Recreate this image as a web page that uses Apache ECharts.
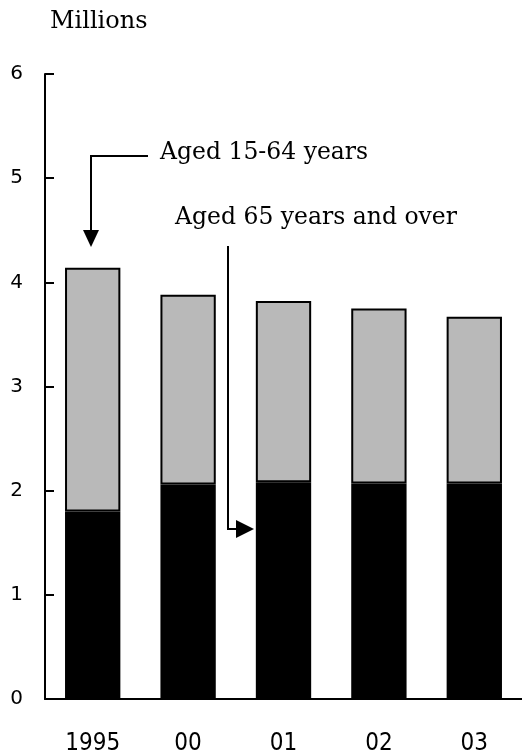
<!DOCTYPE html>
<html><head><meta charset="utf-8">
<script src="https://cdn.jsdelivr.net/npm/echarts@6/dist/echarts.min.js"></script>
<style>html,body{margin:0;padding:0;background:#fff}#c{width:522px;height:756px}</style>
</head><body><div id="c"></div>
<script>
var categories = ['1995', '00', '01', '02', '03'];
var aged65Over = [1.80, 2.06, 2.08, 2.07, 2.07];
var aged15to64 = [2.34, 1.82, 1.74, 1.68, 1.60];
var yTicks = [0, 1, 2, 3, 4, 5, 6];

var serif = '"DejaVu Serif", "Liberation Serif", serif';
function txt(x, y, s, size) {
  return { type: 'text', left: x, top: y, style: { text: s, fontSize: size, fontFamily: serif, fill: '#000' } };
}
var chart = echarts.init(document.getElementById('c'));
chart.setOption({
  animation: false,
  backgroundColor: '#fff',
  grid: { left: 45, right: 0, top: 74, bottom: 52, containLabel: false },
  xAxis: {
    type: 'category', data: categories,
    axisLine: { lineStyle: { color: '#000', width: 2 } },
    axisTick: { show: false },
    axisLabel: { margin: 33, color: '#000', fontSize: 24, fontFamily: '"Liberation Sans Narrow", "DejaVu Sans Condensed", sans-serif' }
  },
  yAxis: {
    type: 'value', min: 0, max: 6, interval: 1,
    axisLine: { show: true, lineStyle: { color: '#000', width: 2 } },
    axisTick: { show: true, inside: true, length: 9, lineStyle: { color: '#000', width: 2 } },
    splitLine: { show: false },
    axisLabel: { margin: 22, color: '#000', fontSize: 20, fontFamily: '"DejaVu Sans", sans-serif',
      formatter: function (v) { return yTicks.indexOf(v) >= 0 ? String(v) : ''; } }
  },
  series: [
    { name: 'Aged 65 years and over', type: 'bar', stack: 't', data: aged65Over, barWidth: '58%',
      itemStyle: { color: '#000', borderColor: '#000', borderWidth: 2 } },
    { name: 'Aged 15-64 years', type: 'bar', stack: 't', data: aged15to64, barWidth: '58%',
      itemStyle: { color: '#b9b9b9', borderColor: '#000', borderWidth: 2 } }
  ],
  graphic: [
    txt(50, 10, 'Millions', 24),
    txt(160, 141, 'Aged 15-64 years', 23.5),
    txt(175, 206, 'Aged 65 years and over', 23.5),
    { type: 'polyline', shape: { points: [[148, 156], [91, 156], [91, 232]] }, style: { stroke: '#000', lineWidth: 2, fill: null } },
    { type: 'polygon', shape: { points: [[83, 230], [99, 230], [91, 247]] }, style: { fill: '#000' } },
    { type: 'polyline', shape: { points: [[228, 246], [228, 529], [238, 529]] }, style: { stroke: '#000', lineWidth: 2, fill: null } },
    { type: 'polygon', shape: { points: [[236, 520], [236, 538], [254, 529]] }, style: { fill: '#000' } }
  ]
});
</script></body></html>
